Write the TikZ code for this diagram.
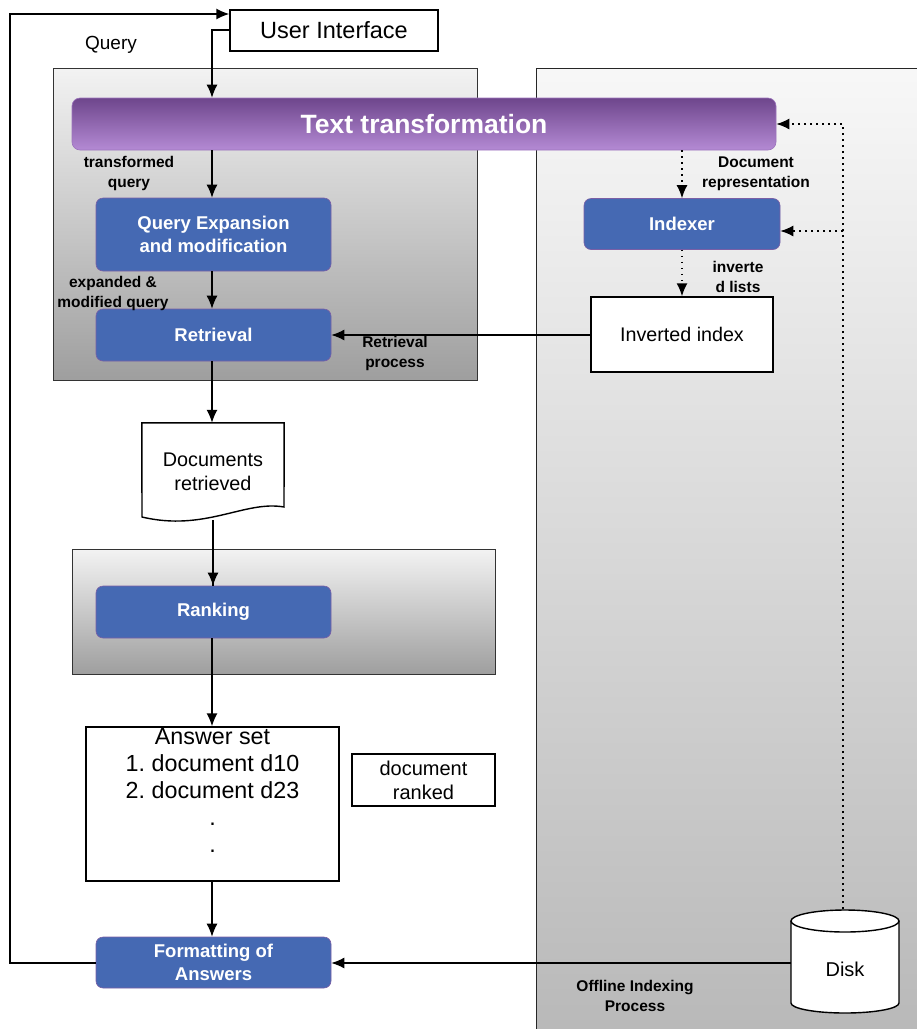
\documentclass[tikz,border=0pt]{standalone}
\usepackage{fontspec}
\setmainfont{Liberation Sans}
\usetikzlibrary{arrows.meta}
\frenchspacing
\definecolor{qblue}{HTML}{4569B3}
\definecolor{qblueline}{HTML}{7A5FA6}
\definecolor{ttop}{HTML}{6E468C}
\definecolor{tbot}{HTML}{B48AD4}
\definecolor{tline}{HTML}{9C74BC}
\newcommand{\fsz}[1]{\fontsize{#1}{#1}\selectfont}
\tikzset{
  arr/.style={line width=1.4pt, -{Latex[length=13pt,width=11pt]}},
  plain/.style={line width=1.4pt},
  dotarr/.style={line width=1.6pt, dash pattern=on 1.6pt off 4.4pt, -{Latex[length=13pt,width=11pt]}},
  dotline/.style={line width=1.6pt, dash pattern=on 1.6pt off 4.4pt},
  bluebox/.style={draw=qblueline, line width=0.6pt, fill=qblue, rounded corners=7pt, text=white, font=\bfseries\fsz{18.5}, align=center, inner sep=0pt},
  whitebox/.style={draw=black, line width=1.4pt, fill=white, inner sep=0pt, align=center},
  grpbox/.style={draw=black!80, line width=1.4pt, top color=black!5, bottom color=black!38, inner sep=0pt},
  lbl/.style={font=\bfseries\fsz{15.5}, align=center, inner sep=0pt},
}
\begin{document}
\begin{tikzpicture}[x=1pt,y=-1pt]
\useasboundingbox (0,0) rectangle (917,1029);
\clip (0,0) rectangle (917,1029);
% offline panel
\node[draw=black!85, line width=1.4pt, top color=black!3, bottom color=black!28, minimum width=400pt, minimum height=980pt, inner sep=0pt, anchor=north west] (panel) at (536,68) {};
% query group
\node[grpbox, minimum width=424pt, minimum height=312pt, anchor=north west] (qgrp) at (53,68) {};
% ranking group
\node[grpbox, minimum width=423pt, minimum height=125pt, anchor=north west] (rgrp) at (72,549) {};

% user interface
\node[whitebox, minimum width=208pt, minimum height=41pt, font=\fsz{23.5}] (ui) at (334,30.5) {User Interface};
\node[font=\fsz{19}, inner sep=0pt] (qlbl) at (111,45) {Query};

% text transformation
\node[draw=tline, line width=0.6pt, top color=ttop, bottom color=tbot, rounded corners=8pt, minimum width=704pt, minimum height=52pt, text=white, font=\bfseries\fsz{26.5}, inner sep=0pt] (tt) at (424,124) {Text transformation};

% blue boxes
\node[bluebox, minimum width=235pt, minimum height=73pt] (qe) at (213.5,234.5) {Query Expansion\\[4.5pt]and modification};
\node[bluebox, minimum width=235pt, minimum height=52pt] (ret) at (213.5,335) {Retrieval};
\node[bluebox, minimum width=196pt, minimum height=51pt] (idx) at (682,224) {Indexer};
\node[bluebox, minimum width=235pt, minimum height=52pt] (rank) at (213.5,612) {Ranking};
\node[bluebox, minimum width=235pt, minimum height=51pt] (fmt) at (213.5,962.5) {Formatting of\\[4.5pt]Answers};

% inverted index
\node[whitebox, minimum width=182pt, minimum height=75pt, font=\fsz{19.7}] (inv) at (682,334.5) {Inverted index};

% documents retrieved (document shape)
\node[inner sep=0pt, minimum width=142pt, minimum height=95pt] (doc) at (213,470.5) {};
\draw[line width=1.4pt, fill=white] (doc.north west) -- (doc.north east) -- (284,507)
  .. controls (245,500) and (205,532) .. (142,517) -- cycle;
\node[font=\fsz{19.8}, align=center, inner sep=0pt] (doctxt) at (213,472) {Documents\\[4pt]retrieved};
\coordinate (docb) at (213,520);

% answer set
\node[whitebox, minimum width=253pt, minimum height=154pt] (ans) at (212.5,804) {};
\node[anchor=north, inner sep=0pt, font=\fsz{23.3}, align=center] (anstxt) at (212.5,728) {Answer set\\[3.7pt]1. document d10\\[3.7pt]2. document d23\\[3.7pt].\\[3.7pt].};
\node[whitebox, minimum width=143pt, minimum height=52pt, font=\fsz{20}] (dr) at (423.5,780) {document\\[4pt]ranked};

% disk
\node[inner sep=0pt, minimum width=108pt, minimum height=102pt] (disk) at (845,960) {};
\fill[white] (791,921) -- (791,1003) arc[start angle=180, end angle=360, x radius=54pt, y radius=10pt] -- (899,921) -- cycle;
\draw[line width=1.4pt] (791,921) -- (791,1003) arc[start angle=180, end angle=360, x radius=54pt, y radius=10pt] -- (899,921);
\draw[line width=1.4pt, fill=white] (845,921) ellipse[x radius=54pt, y radius=11pt];
\node[font=\fsz{20}, inner sep=0pt] (disktxt) at (845,969) {Disk};

% labels
\node[lbl] (l1) at (129,173) {transformed\\[4.5pt]query};
\node[lbl] (l2) at (113,293) {expanded \&\\[4.5pt]modified query};
\node[lbl] (l3) at (395,353) {Retrieval\\[4.5pt]process};
\node[lbl] (l4) at (756,174) {Document\\[4.5pt]representation};
\node[lbl] (l5) at (738,277) {inverte\\[4.5pt]d lists};
\node[lbl] (l6) at (635,996) {Offline Indexing\\[4.5pt]Process};

% connectors
\coordinate (c0) at (212,30);
\draw[arr] (ui.west |- c0) -- (c0) -- (c0 |- tt.north);
\coordinate (fl) at (10,963);
\coordinate (tl) at (10,14);
\draw[arr] (fmt.west |- fl) -- (fl) -- (tl) -- (tl -| ui.west);
\draw[arr] (tt.south -| c0) -- (qe.north -| c0);
\draw[arr] (qe.south -| c0) -- (ret.north -| c0);
\draw[arr] (ret.south -| c0) -- (doc.north -| c0);
\draw[plain] (docb) -- (rank.north -| docb);
\draw[arr] (docb |- rgrp.north) -- (rank.north -| docb);
\draw[plain] (rank.south -| c0) -- (rgrp.south -| c0);
\draw[arr] (rgrp.south -| c0) -- (ans.north -| c0);
\draw[arr] (ans.south -| c0) -- (fmt.north -| c0);
\coordinate (ri) at (0,335);
\draw[arr] (inv.west |- ri) -- (ret.east |- ri);
\coordinate (dl) at (0,963);
\draw[arr] (disk.west |- dl) -- (fmt.east |- dl);
% dotted
\draw[dotarr] (tt.south -| idx.north) -- (idx.north);
\draw[dotarr] (idx.south) -- (inv.north);
\coordinate (d1) at (843,124);
\coordinate (d2) at (843,231);
\coordinate (d0) at (843,909);
\draw[dotline] (d0) -- (d2);
\draw[dotarr] (d2) -- (d1) -- (tt.east |- d1);
\draw[dotarr] (d2) -- (idx.east |- d2);
\end{tikzpicture}
\end{document}
